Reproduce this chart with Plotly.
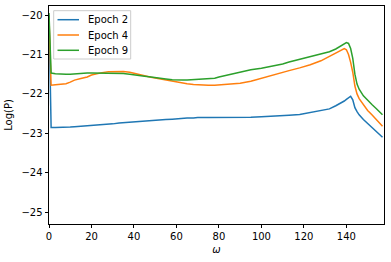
import plotly.graph_objects as go

omega = [0, 1, 3, 5, 8, 10, 12, 15, 18, 20, 22, 25, 28, 30, 33, 35, 38, 40, 43, 45,
         48, 50, 53, 55, 58, 60, 63, 65, 68, 70, 75, 78, 80, 85, 90, 95, 100, 105,
         110, 113, 118, 123, 128, 132, 135, 138, 139, 140, 141, 142, 143, 144, 145,
         146, 148, 150, 152, 154, 156, 157]

epoch2 = [-20.00, -22.85, -22.85, -22.85, -22.84, -22.84, -22.83, -22.82, -22.81, -22.80,
          -22.79, -22.78, -22.77, -22.76, -22.74, -22.73, -22.72, -22.71, -22.70, -22.69,
          -22.68, -22.67, -22.66, -22.65, -22.64, -22.63, -22.62, -22.61, -22.61, -22.60,
          -22.60, -22.60, -22.60, -22.60, -22.59, -22.59, -22.58, -22.57, -22.56, -22.54,
          -22.52, -22.47, -22.42, -22.38, -22.30, -22.22, -22.18, -22.14, -22.09, -22.06,
          -22.15, -22.35, -22.45, -22.53, -22.65, -22.75, -22.84, -22.93, -23.03, -23.10]

epoch4 = [-20.05, -21.78, -21.77, -21.76, -21.74, -21.70, -21.65, -21.61, -21.57, -21.52,
          -21.49, -21.46, -21.44, -21.44, -21.43, -21.43, -21.45, -21.48, -21.51, -21.54,
          -21.58, -21.60, -21.63, -21.65, -21.67, -21.69, -21.72, -21.74, -21.76, -21.77,
          -21.78, -21.78, -21.77, -21.76, -21.73, -21.68, -21.60, -21.53, -21.46, -21.41,
          -21.34, -21.26, -21.16, -21.05, -20.97, -20.88, -20.85, -20.88, -21.00, -21.20,
          -21.45, -21.80, -22.00, -22.12, -22.28, -22.42, -22.53, -22.64, -22.75, -22.82]

epoch9 = [-19.95, -21.47, -21.49, -21.50, -21.50, -21.50, -21.49, -21.47, -21.47, -21.47,
          -21.47, -21.47, -21.48, -21.48, -21.48, -21.48, -21.50, -21.51, -21.53, -21.55,
          -21.57, -21.58, -21.61, -21.62, -21.64, -21.65, -21.65, -21.65, -21.64, -21.63,
          -21.62, -21.60, -21.57, -21.51, -21.45, -21.39, -21.35, -21.30, -21.24, -21.19,
          -21.12, -21.05, -20.99, -20.93, -20.86, -20.77, -20.73, -20.70, -20.72, -20.85,
          -21.10, -21.50, -21.75, -21.88, -22.05, -22.17, -22.27, -22.37, -22.47, -22.53]

series_names = ["Epoch 2", "Epoch 4", "Epoch 9"]
series_values = [epoch2, epoch4, epoch9]
series_colors = ["#1f77b4", "#ff7f0e", "#2ca02c"]

x_ticks = [0, 20, 40, 60, 80, 100, 120, 140]
y_ticks = [-25, -24, -23, -22, -21, -20]
y_tick_text = ["\u221225", "\u221224", "\u221223", "\u221222", "\u221221", "\u221220"]

W, H = 391, 262
ML, MR, MT, MB = 49, 7, 6, 38
PW, PH = W - ML - MR, H - MT - MB


def px(p):
    return (p - ML) / PW


def py(p):
    return (H - MB - p) / PH


fig = go.Figure()
for name, vals, col in zip(series_names, series_values, series_colors):
    fig.add_trace(go.Scatter(x=omega, y=vals, mode="lines", name=name,
                             line=dict(color=col, width=1.5), showlegend=False))

font = dict(family="DejaVu Sans", size=10, color="black")

# matplotlib-style legend box (upper left)
shapes = [dict(type="rect", xref="paper", yref="paper",
               x0=px(53.7), x1=px(130.7), y0=py(59), y1=py(10.7),
               line=dict(color="#cccccc", width=1),
               fillcolor="rgba(255,255,255,0.8)", layer="above")]
annotations = []
row_y = [19.7, 35.0, 50.3]
for name, col, ry in zip(series_names, series_colors, row_y):
    shapes.append(dict(type="line", xref="paper", yref="paper",
                       x0=px(57.5), x1=px(79), y0=py(ry), y1=py(ry),
                       line=dict(color=col, width=1.5), layer="above"))
    annotations.append(dict(text=name, xref="paper", yref="paper",
                            x=px(85.5), y=py(ry), xanchor="left", yanchor="middle",
                            showarrow=False, font=font))

fig.update_layout(
    width=W, height=H,
    margin=dict(l=ML, r=MR, t=MT, b=MB, autoexpand=False),
    paper_bgcolor="white", plot_bgcolor="white",
    font=font,
    showlegend=False,
    shapes=shapes,
    annotations=annotations,
)
fig.update_xaxes(range=[0, 157.7], tickvals=x_ticks, ticks="outside", ticklen=3.5,
                 tickwidth=0.8, tickcolor="black", showline=True, linecolor="black",
                 linewidth=0.8, mirror=True, showgrid=False, zeroline=False,
                 automargin=False,
                 title=dict(text="<i>ω</i>", standoff=4, font=font))
fig.update_yaxes(range=[-25.30, -19.77], tickvals=y_ticks, ticktext=y_tick_text,
                 ticks="outside", ticklen=3.5,
                 tickwidth=0.8, tickcolor="black", showline=True, linecolor="black",
                 linewidth=0.8, mirror=True, showgrid=False, zeroline=False,
                 automargin=False,
                 title=dict(text="Log(P)", standoff=6, font=font))

fig.write_html("out.html", config={"displayModeBar": False},
               post_script="document.body.style.margin='0';")
